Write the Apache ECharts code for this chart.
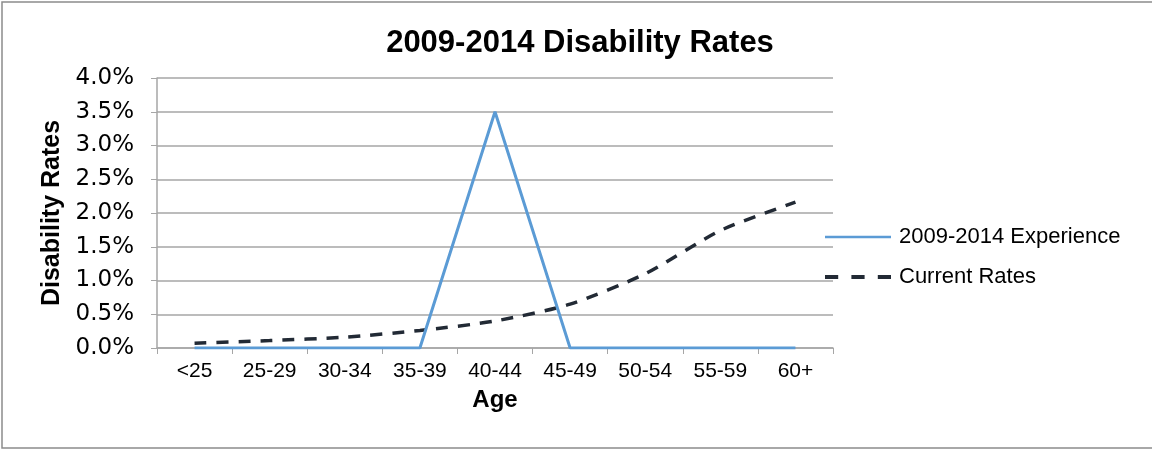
<!DOCTYPE html>
<html>
<head>
<meta charset="utf-8">
<script src="https://cdn.jsdelivr.net/npm/echarts@6/dist/echarts.min.js"></script>
<style>
  html, body { margin: 0; padding: 0; background: #fff; }
  #chart { width: 1152px; height: 449px; }
</style>
</head>
<body>
<div id="chart"></div>
<script>
// Age bands on the horizontal axis
const ageBands = ['<25', '25-29', '30-34', '35-39', '40-44', '45-49', '50-54', '55-59', '60+'];
// Observed disability rates 2009-2014 (percent)
const experience = [0, 0, 0, 0, 3.5, 0, 0, 0, 0];
// Current assumed disability rates (percent)
const currentRates = [0.07, 0.11, 0.16, 0.26, 0.40, 0.65, 1.10, 1.74, 2.16];

const FONT = '"Liberation Sans", Arial, sans-serif';
const WIDE_FONT = '"DejaVu Sans", "Liberation Sans", sans-serif';

const chart = echarts.init(document.getElementById('chart'));
chart.setOption({
  animation: false,
  backgroundColor: '#fff',
  textStyle: { fontFamily: FONT },
  graphic: [{
    type: 'rect',
    shape: { x: 2, y: 2, width: 1160, height: 446 },
    style: { fill: 'none', stroke: '#8c8c8c', lineWidth: 1.5 },
    silent: true
  }],
  title: {
    text: '2009-2014 Disability Rates',
    left: 575, top: 23, textAlign: 'center',
    textStyle: { fontFamily: FONT, fontSize: 31, fontWeight: 'bold', color: '#000' }
  },
  legend: {
    orient: 'vertical',
    left: 820, top: 221,
    itemWidth: 66, itemHeight: 14, itemGap: 18,
    textStyle: { fontFamily: FONT, fontSize: 22, color: '#000', padding: [0, 0, 0, 3] },
    data: [
      { name: '2009-2014 Experience', icon: 'path://M0,6 L66,6 L66,8.5 L0,8.5 Z' },
      { name: 'Current Rates', icon: 'path://M0,5 L13,5 L13,9 L0,9 Z M26,5 L39,5 L39,9 L26,9 Z M52,5 L65,5 L65,9 L52,9 Z' }
    ]
  },
  grid: { left: 157, right: 319, top: 78, bottom: 101 },
  xAxis: {
    type: 'category',
    data: ageBands,
    boundaryGap: true,
    name: 'Age',
    nameLocation: 'middle',
    nameGap: 40,
    nameTextStyle: { fontFamily: FONT, fontSize: 24, fontWeight: 'bold', color: '#000' },
    axisLine: { lineStyle: { color: '#a6a6a6', width: 1.5 } },
    axisTick: { show: true, length: 6, lineStyle: { color: '#a6a6a6' } },
    axisLabel: { fontFamily: FONT, fontSize: 21, color: '#000', margin: 13 }
  },
  yAxis: {
    type: 'value',
    min: 0, max: 4, interval: 0.5,
    name: 'Disability Rates',
    nameLocation: 'middle',
    nameGap: 90,
    nameTextStyle: { fontFamily: FONT, fontSize: 25, fontWeight: 'bold', color: '#000' },
    axisLine: { show: true, lineStyle: { color: '#a6a6a6', width: 1.5 } },
    axisTick: { show: true, length: 6, lineStyle: { color: '#a6a6a6' } },
    axisLabel: { fontFamily: WIDE_FONT, fontSize: 23, color: '#000', margin: 23,
      formatter: v => v.toFixed(1) + '%' },
    splitLine: { lineStyle: { color: '#a6a6a6', width: 1.5 } }
  },
  series: [
    {
      name: '2009-2014 Experience',
      type: 'line',
      data: experience,
      symbol: 'none',
      lineStyle: { color: '#5b9bd5', width: 3 },
      itemStyle: { color: '#5b9bd5' },
      z: 3
    },
    {
      name: 'Current Rates',
      type: 'line',
      data: currentRates,
      symbol: 'none',
      smooth: 0.25,
      lineStyle: { color: '#222a35', width: 3.5, type: [12, 10] },
      itemStyle: { color: '#222a35' },
      z: 2
    }
  ]
});
</script>
</body>
</html>
